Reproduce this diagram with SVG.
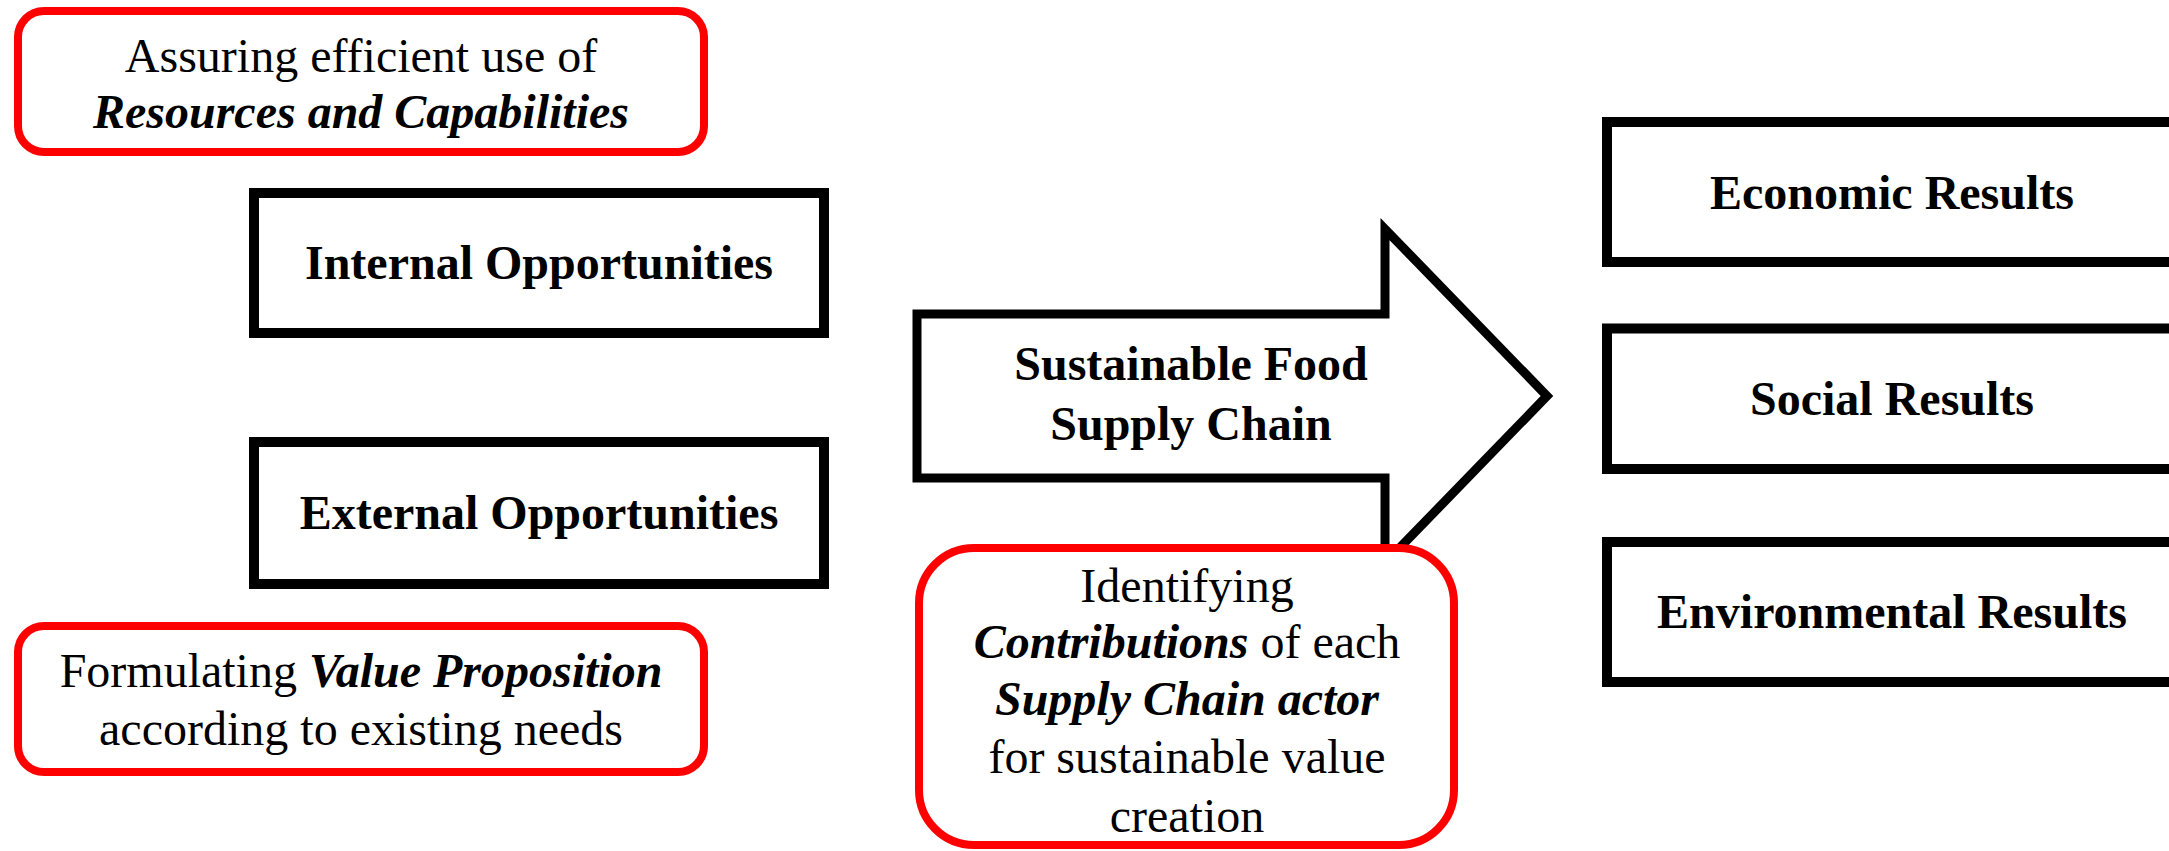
<svg xmlns="http://www.w3.org/2000/svg" width="2169" height="851" viewBox="0 0 2169 851">
<style>
.bg{fill:#fff}
.red{fill:#fff;stroke:#ff0000;stroke-width:8}
.box{fill:#fff;stroke:#000;stroke-width:10}
.arrow{fill:#fff;stroke:#000;stroke-width:9;stroke-linejoin:miter;stroke-miterlimit:10}
text{font-family:"Liberation Serif","Times New Roman",serif;font-size:48px;fill:#000;text-anchor:middle}
.b{font-weight:bold}
.bi{font-weight:bold;font-style:italic}
</style>
<rect class="bg" x="0" y="0" width="2169" height="851"/>
<g id="resources">
<rect class="red" x="18" y="11" width="686" height="141" rx="26"/>
<text x="361" y="72">Assuring efficient use of</text>
<text class="bi" x="361" y="128">Resources and Capabilities</text>
</g>
<g id="internal">
<rect class="box" x="254" y="193" width="570" height="140"/>
<text class="b" x="539" y="279">Internal Opportunities</text>
</g>
<g id="external">
<rect class="box" x="254" y="442" width="570" height="142"/>
<text class="b" x="539" y="529">External Opportunities</text>
</g>
<g id="value">
<rect class="red" x="18" y="626" width="686" height="146" rx="26"/>
<text x="361" y="687">Formulating <tspan class="bi">Value Proposition</tspan></text>
<text x="361" y="745">according to existing needs</text>
</g>
<g id="connectors"></g>
<g id="chain">
<path class="arrow" d="M917,314 L1385,314 L1385,229 L1547,396 L1385,563 L1385,478 L917,478 Z"/>
<text class="b" x="1191" y="380">Sustainable Food</text>
<text class="b" x="1191" y="440">Supply Chain</text>
</g>
<g id="contributions">
<rect class="red" x="919" y="548" width="535" height="297" rx="55"/>
<text x="1187" y="602">Identifying</text>
<text x="1187" y="658"><tspan class="bi">Contributions</tspan> of each</text>
<text class="bi" x="1187" y="715">Supply Chain actor</text>
<text x="1187" y="773">for sustainable value</text>
<text x="1187" y="832">creation</text>
</g>
<g id="economic">
<rect class="box" x="1607" y="122" width="570" height="140"/>
<text class="b" x="1892" y="209">Economic Results</text>
</g>
<g id="social">
<rect class="box" x="1607" y="328.5" width="570" height="140.5"/>
<text class="b" x="1892" y="415">Social Results</text>
</g>
<g id="environmental">
<rect class="box" x="1607" y="542" width="570" height="140"/>
<text class="b" x="1892" y="628">Environmental Results</text>
</g>
</svg>
